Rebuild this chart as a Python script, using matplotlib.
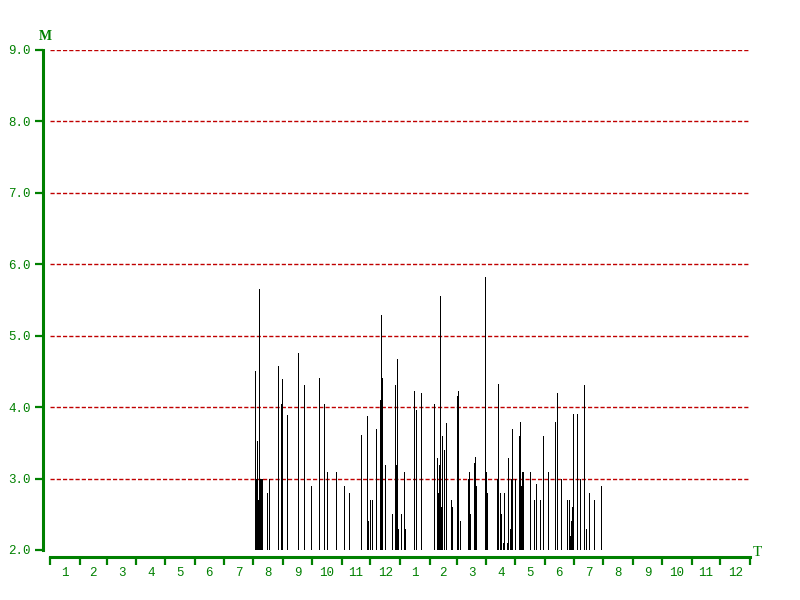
import matplotlib
matplotlib.use('Agg')
import matplotlib.pyplot as plt

# day number counted from 1 Jan of the first year, magnitude
days = [214, 215, 216, 217, 218, 219, 220, 221, 226, 228, 238, 241, 242, 247, 259, 265,
        272, 281, 286, 289, 298, 307, 312, 324, 331, 332, 334, 336, 340, 344, 345, 346,
        349, 357, 360, 361, 362, 363, 366, 369, 370, 380, 382, 387, 400, 404, 405, 406,
        407, 408, 409, 411, 413, 418, 419, 424, 426, 428, 436, 437, 438, 442, 443, 444,
        454, 455, 456, 466, 467, 469, 470, 472, 473, 477, 478, 480, 481, 482, 485, 489,
        490, 491, 492, 493, 501, 505, 507, 511, 514, 519, 527, 529, 533, 539, 541, 542,
        543, 544, 545, 550, 553, 557, 559, 562, 567, 575]
mags = [4.5, 3.0, 3.52, 2.7, 5.65, 3.0, 3.0, 3.0, 2.8, 3.0, 4.58, 4.05, 4.39, 3.89, 4.76, 4.31,
        2.9, 4.41, 4.05, 3.09, 3.09, 2.9, 2.8, 3.61, 3.88, 2.4, 2.7, 2.7, 3.69, 4.1, 5.29, 4.41,
        3.19, 2.5, 4.31, 3.19, 4.67, 2.3, 2.5, 3.09, 2.3, 4.22, 3.96, 4.2, 4.05, 3.29, 2.8, 3.19,
        5.56, 2.6, 3.6, 3.4, 3.78, 2.7, 2.6, 4.15, 4.22, 2.4, 3.0, 3.09, 2.5, 3.22, 3.3, 2.9,
        5.82, 3.09, 2.8, 3.0, 4.32, 2.8, 2.5, 2.1, 2.8, 2.1, 3.29, 2.3, 3.0, 3.69, 3.0, 3.6,
        3.79, 2.9, 3.09, 3.09, 3.09, 2.7, 2.93, 2.7, 3.6, 3.09, 3.79, 4.2, 3.0, 2.7, 2.7, 2.2,
        2.4, 2.6, 3.9, 3.9, 3.0, 4.31, 2.3, 2.8, 2.7, 2.9]

month_len = [31, 28, 31, 30, 31, 30, 31, 31, 30, 31, 30, 31] * 2
month_labels = [str(m) for m in range(1, 13)] * 2
y_levels = [2, 3, 4, 5, 6, 7, 8, 9]

green = '#008000'
font = ['Liberation Mono', 'DejaVu Sans Mono']

fig = plt.figure(figsize=(8, 6), dpi=100)
ax = fig.add_axes([50 / 800, 50 / 600, 700 / 800, 500 / 600])

edges = [0]
for n in month_len:
    edges.append(edges[-1] + n)
mids = [(edges[i] + edges[i + 1]) / 2 for i in range(len(month_len))]

ax.set_xlim(0, edges[-1])
ax.set_ylim(2, 9)

for lv in y_levels[1:]:
    ax.axhline(lv, color='#c00000', lw=1.0, ls=(0, (3, 1.5)), zorder=1)

ax.vlines(days, 2, mags, color='black', lw=0.7, zorder=2, antialiased=False)

for s in ['top', 'right']:
    ax.spines[s].set_visible(False)
ax.spines['left'].set_position(('outward', 5))
ax.spines['bottom'].set_position(('outward', 5))
ax.spines['left'].set_color(green)
ax.spines['bottom'].set_color(green)
ax.spines['left'].set_linewidth(2.2)
ax.spines['bottom'].set_linewidth(2.2)

ax.set_yticks(y_levels)
ax.set_yticklabels(['%.1f' % v for v in y_levels], family=font, fontsize=9, color=green)
ax.tick_params(axis='y', length=6, width=1.6, color=green, pad=3)

ax.set_xticks(edges)
ax.set_xticklabels([])
ax.tick_params(axis='x', which='major', length=6, width=1.6, color=green, direction='in')
ax.set_xticks(mids, minor=True)
ax.set_xticklabels(month_labels, minor=True, family=font, fontsize=9, color=green)
ax.tick_params(axis='x', which='minor', length=0, pad=7)
# x ticks point down from the axis line
for t in ax.xaxis.get_major_ticks():
    t.tick1line.set_marker(3)

fig.text(45 / 800, 1 - 36 / 600, 'M', family=['Liberation Serif', 'DejaVu Serif'], fontsize=10,
         color=green, ha='center', va='center', fontweight='bold')
fig.text(753 / 800, 1 - 553 / 600, 'T', family=['Liberation Serif', 'DejaVu Serif'], fontsize=11,
         color=green, ha='left', va='center')

plt.savefig('out.png', dpi=100, facecolor='white')
